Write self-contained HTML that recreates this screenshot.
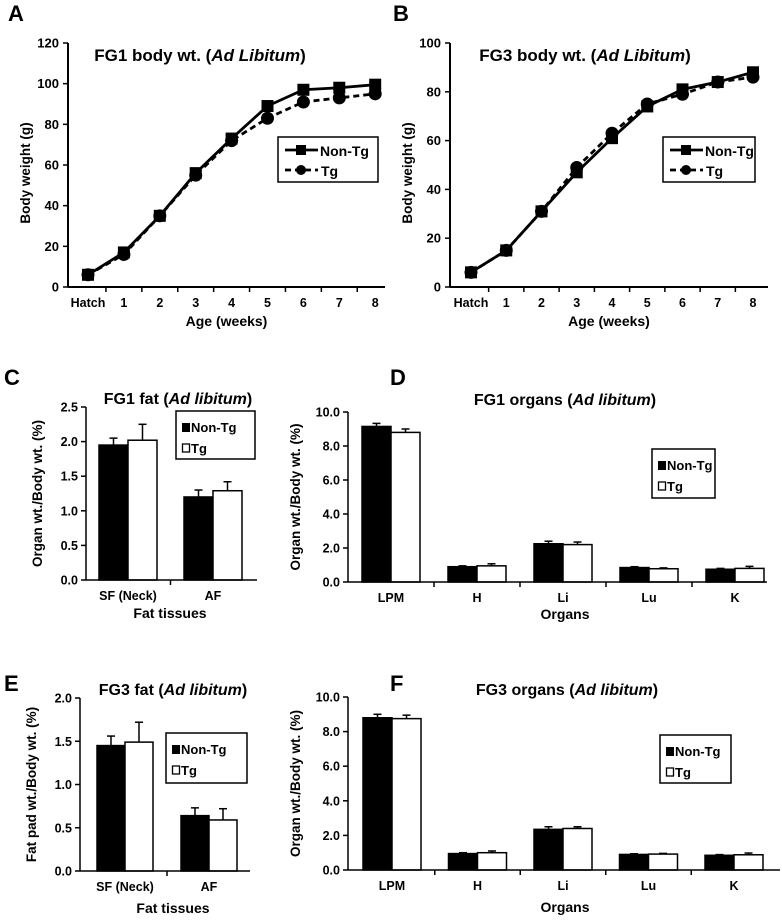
<!DOCTYPE html>
<html><head><meta charset="utf-8"><style>
body{margin:0;background:#fff;}
svg{display:block;font-family:"Liberation Sans",Arial,sans-serif;font-weight:bold;}
</style></head><body>
<svg id="fig" width="782" height="920" viewBox="0 0 782 920"></svg>
<script>
// ---- data ----
const weeks = ["Hatch","1","2","3","4","5","6","7","8"];
const fg1NonTg = [6,17,35,56,73,89,97,98,99.5];
const fg1Tg = [6,16,35,55,72,83,91,93,95];
const fg3NonTg = [6,15,31,47,61,74,81,84,88];
const fg3Tg = [6,15,31,49,63,75,79,84,86];
const fatCats = ["SF (Neck)","AF"];
const fg1FatNonTg = [1.95,1.2];
const fg1FatNonTgErr = [0.1,0.1];
const fg1FatTg = [2.02,1.29];
const fg1FatTgErr = [0.23,0.13];
const fg3FatNonTg = [1.45,0.64];
const fg3FatNonTgErr = [0.11,0.09];
const fg3FatTg = [1.49,0.59];
const fg3FatTgErr = [0.23,0.13];
const organCats = ["LPM","H","Li","Lu","K"];
const fg1OrgNonTg = [9.15,0.9,2.25,0.85,0.75];
const fg1OrgNonTgErr = [0.18,0.05,0.15,0.05,0.05];
const fg1OrgTg = [8.8,0.95,2.2,0.78,0.8];
const fg1OrgTgErr = [0.2,0.12,0.15,0.05,0.12];
const fg3OrgNonTg = [8.8,0.95,2.35,0.9,0.85];
const fg3OrgNonTgErr = [0.2,0.05,0.15,0.04,0.04];
const fg3OrgTg = [8.75,1.0,2.4,0.92,0.88];
const fg3OrgTgErr = [0.2,0.1,0.1,0.04,0.1];
const ticksA = [0,20,40,60,80,100,120];
const ticksB = [0,20,40,60,80,100];
const ticksC = ["0.0","0.5","1.0","1.5","2.0","2.5"];
const ticksE = ["0.0","0.5","1.0","1.5","2.0"];
const ticksOrg = ["0.0","2.0","4.0","6.0","8.0","10.0"];

const NS="http://www.w3.org/2000/svg";
const fig=document.getElementById('fig');
function el(tag,attrs,parent,text){
  const e=document.createElementNS(NS,tag);
  for(const k in attrs)e.setAttribute(k,attrs[k]);
  if(text!==undefined)e.textContent=text;
  (parent||fig).appendChild(e);return e;
}
function text(x,y,s,size,parent,anchor,rot){
  const t=el('text',{x:x,y:y,'font-size':size,'text-anchor':anchor||'middle',fill:'#000'},parent,s);
  if(rot)t.setAttribute('transform','rotate(-90 '+x+' '+y+')');
  return t;
}
function title(x,y,pre,ital,parent,size){
  const t=el('text',{x:x,y:y,'font-size':size,'text-anchor':'middle'},parent);
  el('tspan',{},t,pre+' (');
  el('tspan',{'font-style':'italic'},t,ital);
  el('tspan',{},t,')');
  
  
}

function lineChart(o){
  const g=el('g',{});
  
  
  const ys=v=>o.y0-(v/o.ymax)*(o.y0-o.ytop);
  const xs=i=>o.x0+i*o.dx;
  text(o.lx,o.ly,o.letter,22,g,'start');
  title(o.tx,o.ty,o.tpre,o.tital,g,17);
  el('line',{x1:o.ax,y1:o.ytop,x2:o.ax,y2:o.y0,stroke:'#000','stroke-width':2},g);
  el('line',{x1:o.ax,y1:o.y0,x2:o.axEnd,y2:o.y0,stroke:'#000','stroke-width':2},g);
  o.ticks.forEach(v=>{
    el('line',{x1:o.ax-5,y1:ys(v),x2:o.ax,y2:ys(v),stroke:'#000','stroke-width':1.5},g);
    const t=text(o.ax-9,ys(v)+4.5,String(v),13,g,'end');
    
  });
  weeks.forEach((w,i)=>{
    if(i>0){const xb=(xs(i)+xs(i-1))/2;el('line',{x1:xb,y1:o.y0,x2:xb,y2:o.y0+5,stroke:'#000','stroke-width':1.5},g);}
    const t=text(xs(i),o.y0+20,w,12.5,g);
    
  });
  const xl=text((o.ax+o.axEnd)/2,o.y0+39,'Age (weeks)',14,g);
  
  const yl=text(o.ylx,(o.ytop+o.y0)/2+8,'Body weight (g)',13.5,g,'middle',true);
  
  const draw=(vals,dash,shape,nm)=>{
    const s=el('g',{},g);
    
    el('polyline',{points:vals.map((v,i)=>xs(i)+','+ys(v)).join(' '),fill:'none',stroke:'#000','stroke-width':2.8,'stroke-dasharray':dash},s);
    vals.forEach((v,i)=>{
      let m;
      if(shape==='sq')m=el('rect',{x:xs(i)-6,y:ys(v)-6,width:12,height:12,fill:'#000'},s);
      else m=el('circle',{cx:xs(i),cy:ys(v),r:6.5,fill:'#000'},s);
      
    });
  };
  draw(o.s2,'6,4','ci','series-tg');
  draw(o.s1,'none','sq','series-non-tg');
  const L=el('g',{},g);
  
  el('rect',{x:o.lgx,y:o.lgy,width:o.lgw,height:45,fill:'#fff',stroke:'#000','stroke-width':1.5},L);
  el('line',{x1:o.lgx+7,y1:o.lgy+13,x2:o.lgx+40,y2:o.lgy+13,stroke:'#000','stroke-width':2.8},L);
  el('rect',{x:o.lgx+18,y:o.lgy+8,width:10,height:10,fill:'#000'},L);
  text(o.lgx+42,o.lgy+19,'Non-Tg',14,L,'start');
  el('line',{x1:o.lgx+7,y1:o.lgy+33,x2:o.lgx+40,y2:o.lgy+33,stroke:'#000','stroke-width':2.8,'stroke-dasharray':'6,4'},L);
  el('circle',{cx:o.lgx+23,cy:o.lgy+33,r:5,fill:'#000'},L);
  text(o.lgx+43,o.lgy+39,'Tg',14,L,'start');
}

lineChart({name:'chart-a-fg1-body-weight',letter:'A',lx:8,ly:21,tx:200,ty:61,tpre:'FG1 body wt.',tital:'Ad Libitum',
  ax:68,axEnd:385,ytop:43,y0:287,ymax:120,x0:88,dx:35.9,ticks:ticksA,s1:fg1NonTg,s2:fg1Tg,ylx:30,lgx:278,lgy:137,lgw:100});
lineChart({name:'chart-b-fg3-body-weight',letter:'B',lx:393,ly:21,tx:585,ty:61,tpre:'FG3 body wt.',tital:'Ad Libitum',
  ax:450,axEnd:768,ytop:43,y0:287,ymax:100,x0:471,dx:35.25,ticks:ticksB,s1:fg3NonTg,s2:fg3Tg,ylx:412,lgx:663,lgy:137,lgw:92});

function barChart(o){
  const g=el('g',{});
  
  
  const ys=v=>o.y0-(v/o.ymax)*(o.y0-o.ytop);
  text(o.lx,o.ly,o.letter,22,g,'start');
  title(o.tx,o.ty,o.tpre,o.tital,g,16);
  o.cats.forEach((c,i)=>{
    const cx=o.c0+i*o.dc;
    const bars=[[o.a,o.ae,'#000','bar-non-tg'],[o.b,o.be,'#fff','bar-tg']];
    bars.forEach((b,j)=>{
      const x=cx+(j===0?-o.bw:0), v=b[0][i], e=b[1][i];
      const bx=x+o.bw/2;
      el('line',{x1:bx,y1:ys(v),x2:bx,y2:ys(v+e),stroke:'#000','stroke-width':1.5},g);
      el('line',{x1:bx-4,y1:ys(v+e),x2:bx+4,y2:ys(v+e),stroke:'#000','stroke-width':1.5},g);
      const r=el('rect',{x:x,y:ys(v),width:o.bw,height:o.y0-ys(v),fill:b[2],stroke:'#000','stroke-width':1.5},g);
      
    });
    const t=text(cx,o.y0+20,c,12.5,g);
    
    if(i>0){const xb=cx-o.dc/2;el('line',{x1:xb,y1:o.y0,x2:xb,y2:o.y0+5,stroke:'#000','stroke-width':1.5},g);}
  });
  el('line',{x1:o.ax,y1:o.ytop,x2:o.ax,y2:o.y0,stroke:'#000','stroke-width':1.5},g);
  el('line',{x1:o.ax,y1:o.y0,x2:o.axEnd,y2:o.y0,stroke:'#000','stroke-width':1.5},g);
  o.ticks.forEach(s=>{
    const v=parseFloat(s);
    el('line',{x1:o.ax-5,y1:ys(v),x2:o.ax,y2:ys(v),stroke:'#000','stroke-width':1.5},g);
    const t=text(o.ax-8,ys(v)+4.5,s,12.5,g,'end');
    
  });
  const xl=text(o.xlx,o.xly,o.xlabel,14,g);
  
  const yl=text(o.ylx,(o.ytop+o.y0)/2,o.ylabel,13.5,g,'middle',true);
  
  const L=el('g',{},g);
  
  el('rect',{x:o.lgx,y:o.lgy,width:o.lgw,height:o.lgh,fill:'#fff',stroke:'#000','stroke-width':1.5},L);
  el('rect',{x:o.lgx+6,y:o.lgy+12,width:8,height:9,fill:'#000'},L);
  text(o.lgx+15,o.lgy+21,'Non-Tg',13,L,'start');
  el('rect',{x:o.lgx+6.5,y:o.lgy+33,width:7,height:8,fill:'#fff',stroke:'#000','stroke-width':1.3},L);
  text(o.lgx+15,o.lgy+42,'Tg',13,L,'start');
}

barChart({name:'chart-c-fg1-fat',letter:'C',lx:4,ly:385,tx:178,ty:404,tpre:'FG1 fat',tital:'Ad libitum',
  cats:fatCats,a:fg1FatNonTg,ae:fg1FatNonTgErr,b:fg1FatTg,be:fg1FatTgErr,
  ax:86,axEnd:257,ytop:407,y0:580,ymax:2.5,c0:128,dc:85,bw:29,ticks:ticksC,
  xlabel:'Fat tissues',xlx:170,xly:618,ylabel:'Organ wt./Body wt. (%)',ylx:42,lgx:176,lgy:411,lgw:79,lgh:48});
barChart({name:'chart-d-fg1-organs',letter:'D',lx:390,ly:385,tx:565,ty:405,tpre:'FG1 organs',tital:'Ad libitum',
  cats:organCats,a:fg1OrgNonTg,ae:fg1OrgNonTgErr,b:fg1OrgTg,be:fg1OrgTgErr,
  ax:348,axEnd:767,ytop:412,y0:582,ymax:10,c0:391,dc:86,bw:29,ticks:ticksOrg,
  xlabel:'Organs',xlx:565,xly:619,ylabel:'Organ wt./Body wt. (%)',ylx:300,lgx:652,lgy:449,lgw:63,lgh:49});
barChart({name:'chart-e-fg3-fat',letter:'E',lx:4,ly:691,tx:173,ty:695,tpre:'FG3 fat',tital:'Ad libitum',
  cats:fatCats,a:fg3FatNonTg,ae:fg3FatNonTgErr,b:fg3FatTg,be:fg3FatTgErr,
  ax:80,axEnd:250,ytop:698,y0:871,ymax:2.0,c0:125,dc:84,bw:28,ticks:ticksE,
  xlabel:'Fat tissues',xlx:173,xly:913,ylabel:'Fat pad wt./Body wt. (%)',ylx:36,lgx:166,lgy:733,lgw:81,lgh:50});
barChart({name:'chart-f-fg3-organs',letter:'F',lx:390,ly:691,tx:567,ty:695,tpre:'FG3 organs',tital:'Ad libitum',
  cats:organCats,a:fg3OrgNonTg,ae:fg3OrgNonTgErr,b:fg3OrgTg,be:fg3OrgTgErr,
  ax:348,axEnd:780,ytop:697,y0:870,ymax:10,c0:392,dc:85.5,bw:29,ticks:ticksOrg,
  xlabel:'Organs',xlx:565,xly:912,ylabel:'Organ wt./Body wt. (%)',ylx:300,lgx:660,lgy:735,lgw:71,lgh:48});
</script>
</body></html>
